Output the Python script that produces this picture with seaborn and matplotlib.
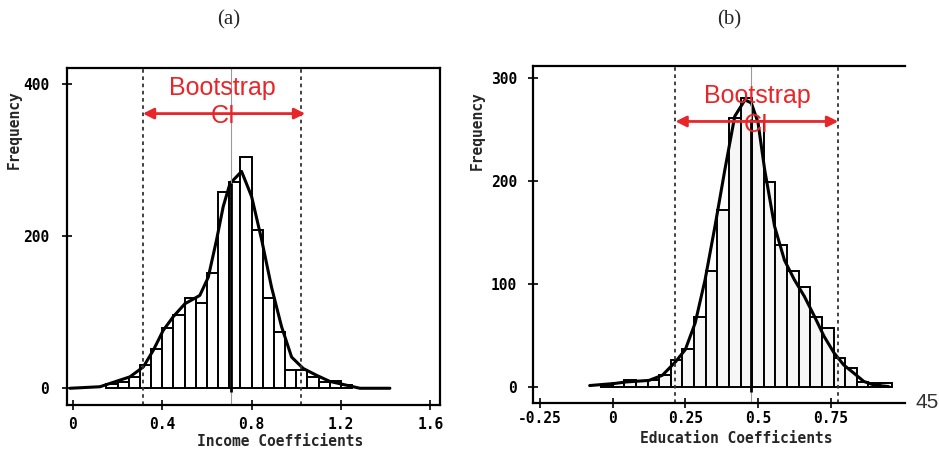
import numpy as np
import pandas as pd
import seaborn as sns
import matplotlib.pyplot as plt

# (a) income coefficients: bootstrap histogram, bins of 0.05
inc_bin_start = [0.15, 0.20, 0.25, 0.30, 0.35, 0.40, 0.45, 0.50, 0.55, 0.60, 0.65,
                 0.70, 0.75, 0.80, 0.85, 0.90, 0.95, 1.00, 1.05, 1.10, 1.15, 1.20]
inc_counts = [6, 8, 15, 30, 52, 79, 96, 118, 112, 151, 258,
              271, 304, 208, 118, 74, 24, 24, 15, 8, 10, 4]
inc_curve_x = [-0.013, 0.121, 0.255, 0.315, 0.36, 0.404, 0.449, 0.501, 0.568, 0.606,
               0.643, 0.673, 0.703, 0.755, 0.80, 0.845, 0.889, 0.934, 0.979, 1.031,
               1.091, 1.15, 1.225, 1.285, 1.419]
inc_curve_y = [0, 2, 15, 28, 50, 76, 94, 111, 122, 146,
               195, 239, 269, 285, 252, 195, 133, 81, 41, 26,
               17, 9, 4, 0, 0]
inc_ci = [0.313, 1.02]
inc_est = 0.707
inc_xticks = [0, 0.4, 0.8, 1.2, 1.6]
inc_xticklabels = ["0", "0.4", "0.8", "1.2", "1.6"]
inc_yticks = [0, 200, 400]

# (b) education coefficients: bins of 0.04
edu_bin_start = [-0.04, 0.00, 0.04, 0.08, 0.12, 0.16, 0.20, 0.24, 0.28, 0.32, 0.36,
                 0.40, 0.44, 0.48, 0.52, 0.56, 0.60, 0.64, 0.68, 0.72, 0.76,
                 0.80, 0.84, 0.88, 0.92]
edu_counts = [2, 3, 6, 5, 6, 11, 26, 37, 68, 112, 172,
              261, 281, 258, 199, 138, 112, 97, 68, 57, 28,
              18, 4, 3, 3]
edu_curve_x = [-0.079, 0.006, 0.046, 0.125, 0.171, 0.216, 0.25, 0.284, 0.318, 0.352,
               0.386, 0.42, 0.455, 0.477, 0.50, 0.523, 0.557, 0.591, 0.625, 0.659,
               0.693, 0.727, 0.761, 0.795, 0.83, 0.864, 0.898, 0.949]
edu_curve_y = [1, 3, 4.5, 6, 11, 24, 36, 62, 104, 156,
               211, 263, 279, 276, 257, 211, 156, 123, 104, 88,
               69, 49, 33, 21, 13, 5, 1.6, 0]
edu_ci = [0.216, 0.776]
edu_est = 0.475
edu_xticks = [-0.25, 0, 0.25, 0.5, 0.75]
edu_xticklabels = ["-0.25", "0", "0.25", "0.5", "0.75"]
edu_yticks = [0, 100, 200, 300]

RED = "#e8262a"
mono = {"family": "DejaVu Sans Mono", "weight": "bold", "size": 10.5}

sns.set_theme(style="white")
plt.rcParams["font.family"] = ["DejaVu Sans"]


def draw_panel(ax, starts, counts, width, cx, cy, ci, est, est_top, face):
    df = pd.DataFrame({"mid": np.array(starts) + width / 2, "n": counts})
    edges = [float(s) for s in starts] + [starts[-1] + width]
    sns.histplot(data=df, x="mid", weights="n", bins=edges, ax=ax,
                 color=face, edgecolor="black", linewidth=1.4, alpha=1)
    sns.lineplot(x=cx, y=cy, ax=ax, color="black", linewidth=2.2, sort=False)
    for v in ci:
        ax.axvline(v, color="#333333", linewidth=1.3, linestyle=(0, (2, 2)))
    ax.axvline(est, color="#999999", linewidth=0.8)
    ax.vlines(est, -5, est_top, color="black", linewidth=2)
    ax.set_xlabel("")
    ax.set_ylabel("")
    for sp in ax.spines.values():
        sp.set_color("black")
        sp.set_linewidth(1.6)
    ax.tick_params(axis="both", direction="inout", length=7, width=1.2,
                   colors="black", bottom=True, left=True)


fig = plt.figure(figsize=(9.39, 4.5), dpi=100)

# panel (a)
ax1 = fig.add_axes([0.071, 0.10, 0.3975, 0.749])
draw_panel(ax1, inc_bin_start, inc_counts, 0.05, inc_curve_x, inc_curve_y,
           inc_ci, inc_est, 270, "white")
ax1.set_ylim(-22, 421)
ax1.set_xlim(-0.028, 1.643)
ax1.set_xticks(inc_xticks)
ax1.set_xticklabels(inc_xticklabels, fontdict=mono)
ax1.set_yticks(inc_yticks)
ax1.set_yticklabels([str(t) for t in inc_yticks], fontdict=mono)
ax1.tick_params(axis="x", pad=5)
ax1.tick_params(axis="y", pad=9)
ax1.set_xlabel("Income Coefficients", fontdict=mono)
ax1.xaxis.set_label_coords(0.571, -0.085)
ax1.set_ylabel("Frequency", fontdict=mono)
ax1.yaxis.set_label_coords(-0.12, 0.816)
ax1.annotate("", xy=(inc_ci[0], 361), xytext=(inc_ci[1] + 0.02, 361),
             arrowprops=dict(arrowstyle="<|-|>", color=RED, lw=2,
                             mutation_scale=16, shrinkA=0, shrinkB=0))
ax1.text(0.671, 385, "Bootstrap", color=RED, fontsize=18, ha="center",
         va="baseline", family="Liberation Sans")
ax1.text(0.671, 349, "CI", color=RED, fontsize=18, ha="center",
         va="baseline", family="Liberation Sans")

# panel (b)
ax2 = fig.add_axes([0.5676, 0.1044, 0.396, 0.749])
draw_panel(ax2, edu_bin_start, edu_counts, 0.04, edu_curve_x, edu_curve_y,
           edu_ci, edu_est, 260, "#f6f6f6")
ax2.set_ylim(-16, 312)
ax2.set_xlim(-0.274, 1.005)
ax2.spines["right"].set_visible(False)
ax2.set_xticks(edu_xticks)
ax2.set_xticklabels(edu_xticklabels, fontdict=mono)
ax2.set_yticks(edu_yticks)
ax2.set_yticklabels([str(t) for t in edu_yticks], fontdict=mono)
ax2.tick_params(axis="x", pad=2)
ax2.tick_params(axis="y", pad=8)
ax2.set_xlabel("Education Coefficients", fontdict=mono)
ax2.xaxis.set_label_coords(0.546, -0.082)
ax2.set_ylabel("Frequency", fontdict=mono)
ax2.yaxis.set_label_coords(-0.129, 0.807)
ax2.annotate("", xy=(edu_ci[0], 258), xytext=(edu_ci[1], 258),
             arrowprops=dict(arrowstyle="<|-|>", color=RED, lw=2,
                             mutation_scale=16, shrinkA=0, shrinkB=0))
ax2.text(0.497, 276, "Bootstrap", color=RED, fontsize=18, ha="center",
         va="baseline", family="Liberation Sans")
ax2.text(0.495, 248, "CI", color=RED, fontsize=18, ha="center",
         va="baseline", family="Liberation Sans")

fig.text(229 / 939, 1 - 20 / 450, "(a)", ha="center", va="center",
         fontsize=15, family="Liberation Serif")
fig.text(729 / 939, 1 - 20 / 450, "(b)", ha="center", va="center",
         fontsize=15, family="Liberation Serif")
fig.text(927 / 939, 1 - 403 / 450, "45", ha="center", va="center",
         fontsize=15, color="#333333", family="Liberation Sans")

fig.savefig("out.png", dpi=100)
